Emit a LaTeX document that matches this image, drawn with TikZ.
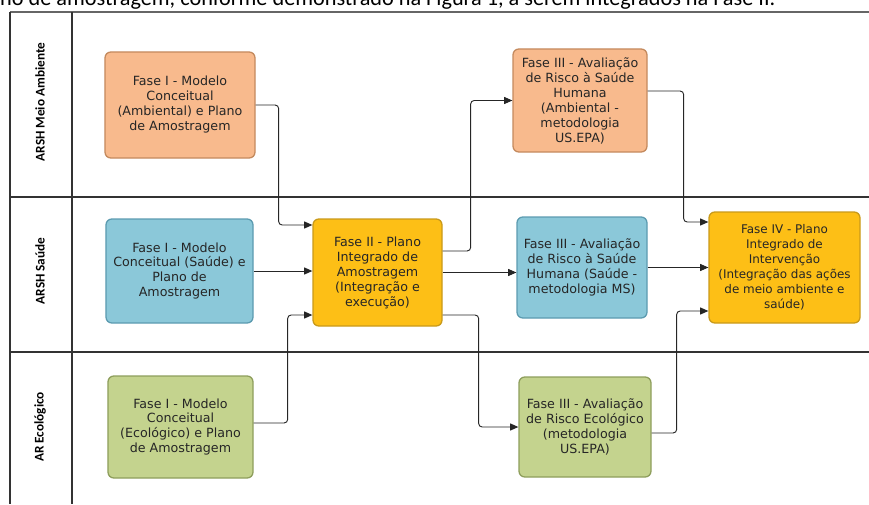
\documentclass[tikz,border=0pt]{standalone}
\usepackage{fontspec}
\setmainfont{DejaVu Sans}
\newfontfamily\laneFont{Carlito}
\usetikzlibrary{arrows.meta}

\definecolor{ambFill}{HTML}{F8BA8D}
\definecolor{ambLine}{HTML}{C48A5E}
\definecolor{saudeFill}{HTML}{8BC8D9}
\definecolor{saudeLine}{HTML}{5C9BB0}
\definecolor{ecoFill}{HTML}{C4D38E}
\definecolor{ecoLine}{HTML}{8E9E5C}
\definecolor{planFill}{HTML}{FDBF16}
\definecolor{planLine}{HTML}{C99A1A}

\newcommand\laneRight{869}

\begin{document}
\begin{tikzpicture}[x=0.03cm,y=-0.03cm,
    phase/.style={draw, rounded corners=5pt, line width=1.1pt, align=center, inner sep=1pt,
        text=black!85, font=\fontsize{10.8}{12.8}\selectfont},
    flow/.style={-{Triangle[length=7pt,width=6pt]}, line width=0.8pt, black!85, rounded corners=3pt},
    lanelabel/.style={rotate=90, font=\laneFont\bfseries\fontsize{11.3}{13}\selectfont},
    laneline/.style={line width=1pt, black!80}]
    \useasboundingbox (0,0) rectangle (869,504);
    % Caption line cut by the page
    \node [anchor=base west, inner sep=0pt, font=\laneFont\fontsize{19}{22}\selectfont] (caption) at (0,5)
        {no de amostragem, conforme demonstrado na Figura 1, a serem integrados na Fase II.};
    % Draw the swimlanes
    \draw [laneline, black!60, line width=1.3pt] (10,12) -- (\laneRight,12);
    \draw [laneline] (10,12) -- (10,504);
    \draw [laneline] (72,12) -- (72,504);
    \foreach \y in {197, 352}
        \draw [laneline] (10,\y) -- (\laneRight,\y);
    \foreach \y/\lane in {102/ARSH Meio Ambiente, 271/ARSH Saúde, 427/AR Ecológico}
        \node [lanelabel] (lane\y) at (40,\y) {\lane};
    % Fase I
    \node [phase, fill=ambFill, draw=ambLine, minimum width=4.5cm, minimum height=3.18cm] (famb) at (180,105)
        {Fase I - Modelo\\Conceitual\\(Ambiental) e Plano\\de Amostragem};
    \node [phase, fill=saudeFill, draw=saudeLine, minimum width=4.41cm, minimum height=3.12cm] (fsaude) at (179.5,271)
        {Fase I - Modelo\\Conceitual (Saúde) e\\Plano de\\Amostragem};
    \node [phase, fill=ecoFill, draw=ecoLine, minimum width=4.35cm, minimum height=3.06cm] (feco) at (180.5,427)
        {Fase I - Modelo\\Conceitual\\(Ecológico) e Plano\\de Amostragem};
    % Fase II
    \node [phase, fill=planFill, draw=planLine, minimum width=3.87cm, minimum height=3.21cm] (fii) at (377.5,272.5)
        {Fase II - Plano\\Integrado de\\Amostragem\\(Integração e\\execução)};
    % Fase III
    \node [phase, fill=ambFill, draw=ambLine, minimum width=4.02cm, minimum height=3.09cm] (fiiiamb) at (580,100.5)
        {Fase III - Avaliação\\de Risco à Saúde\\Humana\\(Ambiental -\\metodologia\\US.EPA)};
    \node [phase, fill=saudeFill, draw=saudeLine, minimum width=3.9cm, minimum height=3.03cm] (fiiisaude) at (582,267.5)
        {Fase III - Avaliação\\de Risco à Saúde\\Humana (Saúde -\\metodologia MS)};
    \node [phase, fill=ecoFill, draw=ecoLine, minimum width=3.96cm, minimum height=3.0cm] (fiiieco) at (585,427)
        {Fase III - Avaliação\\de Risco Ecológico\\(metodologia\\US.EPA)};
    % Fase IV
    \node [phase, fill=planFill, draw=planLine, minimum width=4.53cm, minimum height=3.33cm,
        font=\fontsize{10.2}{12.8}\selectfont] (fiv) at (784.5,267.5)
        {Fase IV - Plano\\Integrado de\\Intervenção\\(Integração das ações\\de meio ambiente e\\saúde)};
    % Draw the flows into Fase II
    \draw [flow] (famb.east) -- ++(23,0) |- (fii.west |- 0,225);
    \draw [flow] (fsaude.east) -- (fii.west |- fsaude.east);
    \draw [flow] (feco.east |- 0,423) -- ++(34,0) |- (fii.west |- 0,315);
    % Draw the flows into Fase III
    \draw [flow] (fii.east |- 0,251) -- ++(28,0) |- (fiiiamb.west);
    \draw [flow] (fii.east) -- (fiiisaude.west |- fii.east);
    \draw [flow] (fii.east |- 0,315) -- ++(36,0) |- (fiiieco.west);
    % Draw the flows into Fase IV
    \draw [flow] (fiiiamb.east |- 0,91) -- ++(36,0) |- (fiv.west |- 0,222);
    \draw [flow] (fiiisaude.east) -- (fiv.west |- fiiisaude.east);
    \draw [flow] (fiiieco.east |- 0,433) -- ++(25,0) |- (fiv.west |- 0,311);
\end{tikzpicture}
\end{document}
